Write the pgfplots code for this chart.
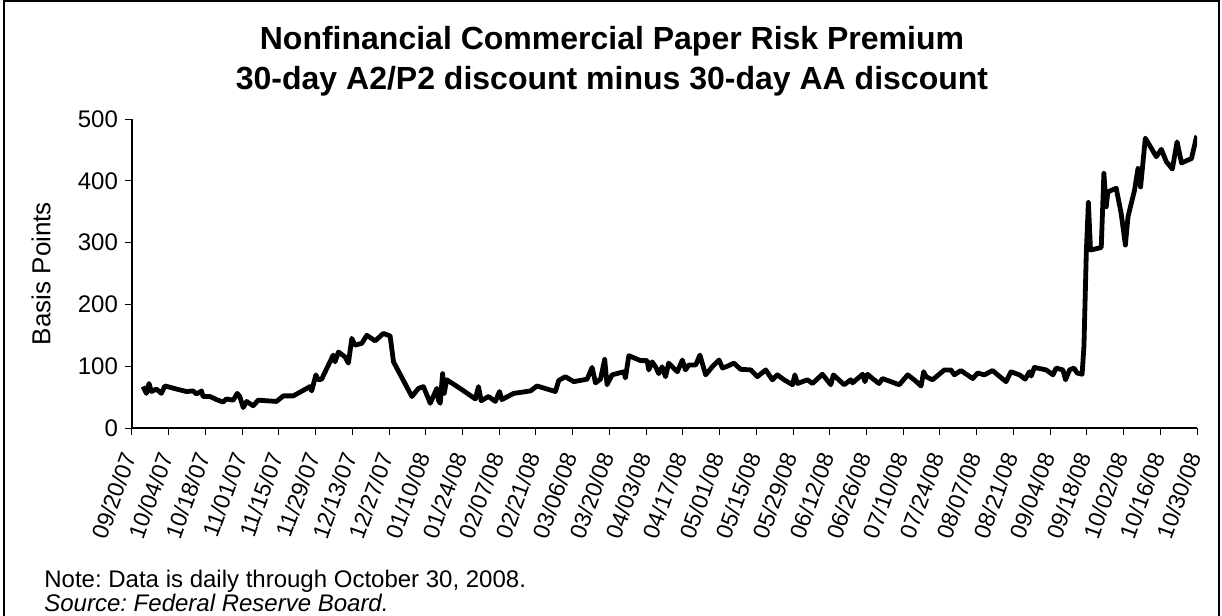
\documentclass[border=0pt]{standalone}
\usepackage{fontspec}
\setmainfont{Liberation Sans}
\usepackage{pgfplots}
\pgfplotsset{compat=1.18}
\frenchspacing

\begin{document}
\begin{tikzpicture}
\useasboundingbox (-66pt,-94pt) rectangle (545pt,214pt);
\draw[line width=1pt] (-64pt,-100pt) -- (-64pt,213.5pt) -- (543.5pt,213.5pt) -- (543.5pt,-100pt);
\begin{axis}[
  at={(0pt,0pt)}, anchor=south west,
  scale only axis, width=532.5pt, height=154.5pt,
  xmin=0, xmax=406, ymin=0, ymax=500,
  axis lines*=left,
  xtick={0,14,...,406},
  xticklabels={09/20/07,10/04/07,10/18/07,11/01/07,11/15/07,11/29/07,12/13/07,12/27/07,01/10/08,01/24/08,02/07/08,02/21/08,03/06/08,03/20/08,04/03/08,04/17/08,05/01/08,05/15/08,05/29/08,06/12/08,06/26/08,07/10/08,07/24/08,08/07/08,08/21/08,09/04/08,09/18/08,10/02/08,10/16/08,10/30/08},
  ytick={0,100,...,500},
  tick align=outside,
  major tick length=3.5pt,
  tick style={black, line width=0.5pt},
  axis line style={line width=0.6pt},
  ticklabel style={font=\fontsize{12}{14}\selectfont},
  xticklabel style={rotate=70, anchor=east, font=\fontsize{11.5}{14}\selectfont},
  xticklabel shift=6pt,
  /pgf/number format/assume math mode=true,
  ylabel={Basis Points},
  ylabel style={font=\fontsize{13}{15}\selectfont, at={([xshift=-45.5pt]axis description cs:0,0.5)}, anchor=center},
]
% risk premium, basis points, x = days since 09/20/07
\addplot[black, line width=2.4pt, line join=round] coordinates {
(4.2,67)(5.5,56)(6.5,72)(7.4,59)(9.3,63)(11.2,56)(12.5,68)(14.4,66)(17.0,63)(20.8,59)(23.3,60)(24.6,55)(26.5,60)(27.1,51)(29.7,51)(32.2,46)(34.7,42)(36.0,47)(38.6,45)(40.1,56)(41.1,51)(42.4,33)(43.7,43)(46.2,36)(48.1,45)(55.1,43)(57.7,52)(61.5,52)
(67.9,67)(68.5,60)(70.1,86)(71.0,78)(72.3,79)(76.7,118)(77.4,107)(78.7,123)(81.2,115)(82.5,105)(83.8,145)(85.0,134)(87.6,137)(89.5,150)(92.7,141)(95.8,153)(98.4,149)(99.7,107)
(106.7,51)(109.2,64)(111.1,67)(113.7,40)(116.2,64)(116.8,45)(117.5,40)(118.4,88)(119.0,56)(120.0,78)(125.1,64)(130.9,47)(132.1,67)(133.1,44)(135.9,51)(138.5,43)(140.1,59)(141.0,46)(145.5,56)(151.9,60)(154.4,68)
(161.4,59)(162.7,77)(165.2,83)(168.4,75)(173.5,79)(175.4,98)(176.7,73)(178.6,79)(180.2,111)(181.1,70)(183.0,86)(187.5,91)(188.1,81)(189.4,117)(193.9,109)(196.4,109)(197.0,94)(198.3,107)(199.6,99)(200.8,88)(202.1,99)(203.4,83)(204.6,105)
(207.9,91)(209.8,110)(211.0,94)(212.3,102)(214.9,102)(216.5,118)(218.7,86)(221.2,99)(223.8,110)(225.1,97)(227.0,100)(229.5,105)(232.0,95)(235.9,94)(238.4,83)(241.6,94)(244.1,78)(246.0,86)(248.6,78)(251.8,70)(252.7,86)(253.7,72)
(257.5,78)(259.4,72)(263.2,87)(266.4,70)(267.4,86)(270.2,75)(271.5,70)(274.0,78)(274.7,73)(278.5,87)(279.4,75)(280.4,87)(282.3,80)(284.8,72)(286.1,80)(292.5,70)(295.7,86)(298.2,78)(300.8,68)(301.8,91)(302.7,83)(305.2,78)
(309.7,94)(312.2,94)(313.5,86)(316.0,93)(320.5,80)(322.4,89)(324.9,86)(328.1,93)(330.0,86)(333.2,75)(335.1,91)(338.3,86)(340.5,79)(342.1,91)(342.8,84)(344.0,98)(348.5,94)(351.1,86)(352.3,97)(354.9,94)(355.9,78)(357.4,94)(359.1,97)(360.3,89)(362.2,87)
(362.9,132)(363.8,283)(364.6,365)(365.4,288)(369.5,292)(370.5,412)(371.4,358)(372.0,382)(375.2,388)(377.1,347)(378.7,296)(379.7,342)(382.2,385)(383.5,420)(384.5,390)(386.3,469)(390.5,439)(392.4,451)(394.3,431)(396.6,419)(398.4,463)(400.1,429)(403.9,436)(405.8,471)(406,472)
};
\end{axis}
\node[font=\bfseries\fontsize{16}{19}\selectfont, anchor=base] at (240pt,189pt) {Nonfinancial Commercial Paper Risk Premium};
\node[font=\bfseries\fontsize{16}{19}\selectfont, anchor=base] at (240pt,169pt) {30-day A2/P2 discount minus 30-day AA discount};
\node[font=\fontsize{12}{14}\selectfont, anchor=base west, inner sep=0pt] at (-44pt,-79.5pt) {Note: Data is daily through October 30, 2008.};
\node[font=\itshape\fontsize{12}{14}\selectfont, anchor=base west, inner sep=0pt] at (-44pt,-92pt) {Source: Federal Reserve Board.};
\end{tikzpicture}
\end{document}
